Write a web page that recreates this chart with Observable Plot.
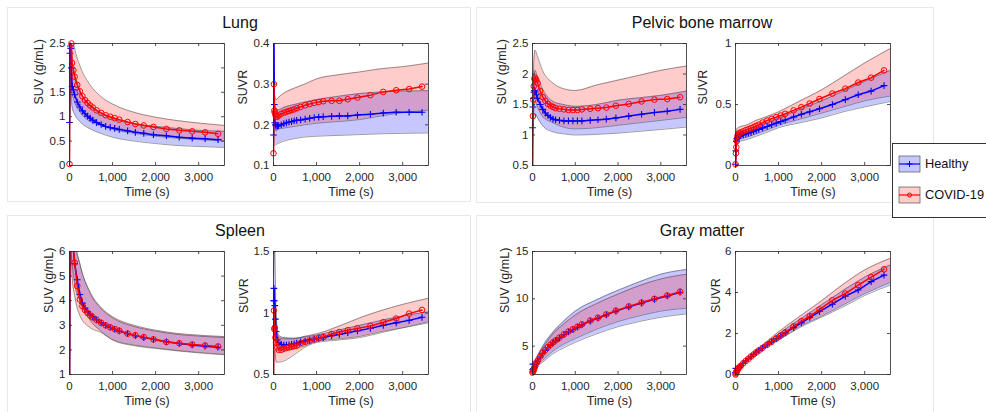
<!DOCTYPE html>
<html>
<head>
<meta charset="utf-8">
<script src="https://cdn.jsdelivr.net/npm/d3@7"></script>
<script src="https://cdn.jsdelivr.net/npm/@observablehq/plot@0.6"></script>
<style>
  html, body { margin: 0; padding: 0; background: #fff; }
  #root { position: relative; width: 986px; height: 412px; overflow: hidden; background: #fff;
          font-family: "Liberation Sans", Arial, Helvetica, sans-serif; color: #262626; }
  .grp { position: absolute; border: 1px solid #e8e8e8; box-sizing: border-box; }
  .ttl { position: absolute; font-size: 16px; line-height: 16px; color: #111; transform: translateX(-50%); white-space: nowrap; }
  .pnl { position: absolute; }
  #legend { position: absolute; left: 892px; top: 143px; width: 100px; height: 73px; border: 1px solid #333; background: #fff; }
</style>
</head>
<body>
<div id="root">
  <div class="grp" style="left:7px;top:7px;width:464px;height:195px"></div>
  <div class="grp" style="left:476px;top:7px;width:458px;height:196px"></div>
  <div class="grp" style="left:7px;top:215px;width:464px;height:205px"></div>
  <div class="grp" style="left:476px;top:215px;width:458px;height:205px"></div>
  <div class="ttl" style="left:240px;top:15px">Lung</div>
  <div class="ttl" style="left:702px;top:15px">Pelvic bone marrow</div>
  <div class="ttl" style="left:240px;top:223px">Spleen</div>
  <div class="ttl" style="left:702px;top:223px">Gray matter</div>
  <div id="legend"></div>
</div>
<script>
// ---------- data ----------
const timeS = [0, 10, 20, 30, 45, 60, 90, 120, 180, 240, 300, 360, 420, 480, 540, 630, 735, 840, 945, 1050, 1155, 1350, 1530, 1725, 1950, 2250, 2550, 2850, 3150, 3450];
const bandTimeS = [0, 30, 60, 120, 240, 480, 720, 1000, 1500, 2000, 2500, 3000, 3600];
const xTicks = [0, 1000, 2000, 3000];
const groups = ["Healthy", "COVID-19"];

// Lung SUV
const lungSuvHealthy = [0.88, 2.3, 2.45, 2.4, 2.0, 1.62, 1.55, 1.45, 1.3, 1.2, 1.12, 1.06, 1.01, 0.97, 0.93, 0.88, 0.84, 0.80, 0.78, 0.76, 0.74, 0.71, 0.68, 0.66, 0.63, 0.61, 0.58, 0.56, 0.55, 0.53];
const lungSuvCovid = [0.03, 4.0, 3.5, 3.0, 2.5, 2.1, 1.95, 1.82, 1.65, 1.52, 1.42, 1.34, 1.28, 1.23, 1.19, 1.13, 1.08, 1.03, 1.0, 0.97, 0.94, 0.89, 0.85, 0.82, 0.79, 0.75, 0.72, 0.70, 0.68, 0.65];
const lungSuvHealthyUp = [1.0, 2.6, 2.2, 1.9, 1.55, 1.22, 1.07, 0.96, 0.86, 0.80, 0.76, 0.72, 0.70];
const lungSuvHealthyLo = [0.7, 1.6, 1.2, 1.05, 0.9, 0.75, 0.66, 0.58, 0.50, 0.45, 0.41, 0.39, 0.37];
const lungSuvCovidUp = [0.1, 3.5, 2.7, 2.4, 2.05, 1.65, 1.42, 1.26, 1.09, 0.99, 0.92, 0.87, 0.82];
const lungSuvCovidLo = [0.0, 2.0, 1.5, 1.3, 1.1, 0.9, 0.82, 0.74, 0.66, 0.60, 0.56, 0.53, 0.50];

// Lung SUVR
const lungSuvrHealthy = [0.175, 0.45, 0.25, 0.205, 0.2, 0.197, 0.197, 0.198, 0.2, 0.203, 0.205, 0.207, 0.208, 0.21, 0.211, 0.212, 0.214, 0.216, 0.218, 0.219, 0.22, 0.221, 0.222, 0.222, 0.224, 0.226, 0.229, 0.231, 0.231, 0.231];
const lungSuvrCovid = [0.13, 0.30, 0.235, 0.23, 0.225, 0.22, 0.22, 0.223, 0.227, 0.23, 0.232, 0.234, 0.236, 0.238, 0.241, 0.244, 0.248, 0.251, 0.254, 0.256, 0.258, 0.259, 0.259, 0.263, 0.267, 0.273, 0.281, 0.285, 0.288, 0.294];
const lungSuvrHealthyUp = [0.2, 0.25, 0.237, 0.237, 0.243, 0.25, 0.256, 0.262, 0.27, 0.277, 0.281, 0.283, 0.284];
const lungSuvrHealthyLo = [0.15, 0.15, 0.152, 0.155, 0.16, 0.166, 0.17, 0.172, 0.174, 0.176, 0.178, 0.179, 0.18];
const lungSuvrCovidUp = [0.3, 0.27, 0.262, 0.268, 0.278, 0.29, 0.30, 0.313, 0.323, 0.33, 0.338, 0.343, 0.352];
const lungSuvrCovidLo = [0.12, 0.19, 0.185, 0.19, 0.192, 0.196, 0.2, 0.204, 0.208, 0.213, 0.222, 0.23, 0.236];

// Pelvic bone marrow SUV
const pelvicSuvHealthy = [1.12, 1.46, 1.6, 1.7, 1.73, 1.72, 1.66, 1.6, 1.5, 1.42, 1.36, 1.32, 1.29, 1.26, 1.25, 1.24, 1.23, 1.23, 1.23, 1.23, 1.23, 1.24, 1.25, 1.26, 1.28, 1.31, 1.34, 1.37, 1.39, 1.42];
const pelvicSuvCovid = [0.3, 1.31, 1.58, 1.8, 1.92, 1.94, 1.9, 1.85, 1.72, 1.62, 1.56, 1.51, 1.48, 1.46, 1.44, 1.43, 1.42, 1.41, 1.41, 1.41, 1.42, 1.43, 1.44, 1.45, 1.48, 1.51, 1.55, 1.58, 1.59, 1.62];
const pelvicSuvHealthyUp = [1.2, 1.9, 2.06, 1.95, 1.75, 1.55, 1.5, 1.47, 1.5, 1.57, 1.61, 1.65, 1.72];
const pelvicSuvHealthyLo = [1.0, 1.3, 1.35, 1.28, 1.15, 1.05, 1.02, 1.0, 1.01, 1.03, 1.06, 1.09, 1.13];
const pelvicSuvCovidUp = [0.5, 2.2, 2.39, 2.28, 2.05, 1.85, 1.76, 1.73, 1.82, 1.9, 1.98, 2.06, 2.13];
const pelvicSuvCovidLo = [0.1, 1.4, 1.55, 1.45, 1.3, 1.2, 1.13, 1.1, 1.12, 1.16, 1.2, 1.24, 1.29];

// Pelvic bone marrow SUVR
const pelvicSuvrHealthy = [0.01, 0.12, 0.2, 0.22, 0.228, 0.232, 0.238, 0.244, 0.25, 0.258, 0.265, 0.27, 0.279, 0.288, 0.296, 0.308, 0.32, 0.334, 0.347, 0.36, 0.373, 0.397, 0.42, 0.44, 0.465, 0.5, 0.54, 0.58, 0.61, 0.655];
const pelvicSuvrCovid = [0.01, 0.1, 0.15, 0.2, 0.24, 0.255, 0.265, 0.272, 0.28, 0.29, 0.298, 0.306, 0.315, 0.325, 0.335, 0.352, 0.368, 0.383, 0.396, 0.41, 0.424, 0.452, 0.478, 0.508, 0.545, 0.59, 0.63, 0.68, 0.72, 0.78];
const pelvicSuvrHealthyUp = [0.02, 0.26, 0.27, 0.28, 0.29, 0.32, 0.35, 0.39, 0.46, 0.53, 0.61, 0.69, 0.78];
const pelvicSuvrHealthyLo = [0.0, 0.18, 0.19, 0.2, 0.21, 0.24, 0.27, 0.31, 0.35, 0.39, 0.44, 0.48, 0.525];
const pelvicSuvrCovidUp = [0.02, 0.3, 0.31, 0.32, 0.33, 0.37, 0.4, 0.44, 0.53, 0.62, 0.73, 0.84, 0.96];
const pelvicSuvrCovidLo = [0.0, 0.2, 0.21, 0.22, 0.23, 0.26, 0.29, 0.33, 0.38, 0.43, 0.48, 0.53, 0.57];

// Spleen SUV
const spleenSuvHealthy = [0.5, 7.0, 8.0, 8.0, 7.4, 6.8, 6.1, 5.5, 4.85, 4.25, 3.9, 3.7, 3.55, 3.45, 3.35, 3.22, 3.1, 3.0, 2.92, 2.84, 2.77, 2.66, 2.58, 2.5, 2.43, 2.33, 2.26, 2.2, 2.15, 2.11];
const spleenSuvCovid = [0.2, 8.0, 9.0, 8.5, 7.5, 6.8, 6.1, 5.55, 4.6, 4.05, 3.78, 3.62, 3.5, 3.4, 3.32, 3.22, 3.1, 3.0, 2.92, 2.85, 2.78, 2.66, 2.6, 2.52, 2.43, 2.32, 2.27, 2.22, 2.18, 2.14];
const spleenSuvHealthyUp = [1.0, 9.0, 8.0, 6.6, 5.5, 4.3, 3.7, 3.3, 2.95, 2.76, 2.63, 2.56, 2.5];
const spleenSuvHealthyLo = [0.3, 6.0, 5.5, 4.7, 4.0, 3.2, 2.78, 2.42, 2.2, 2.08, 1.98, 1.9, 1.82];
const spleenSuvCovidUp = [0.5, 10.0, 8.0, 6.6, 5.5, 4.35, 3.75, 3.35, 3.0, 2.8, 2.67, 2.6, 2.54];
const spleenSuvCovidLo = [0.0, 6.0, 5.0, 4.2, 3.4, 2.9, 2.72, 2.4, 2.17, 2.06, 1.96, 1.88, 1.8];

// Spleen SUVR
const spleenSuvrHealthy = [1.1, 1.2, 1.1, 1.06, 0.95, 0.85, 0.78, 0.76, 0.745, 0.74, 0.74, 0.742, 0.745, 0.75, 0.755, 0.765, 0.772, 0.78, 0.787, 0.795, 0.8, 0.815, 0.825, 0.84, 0.855, 0.875, 0.9, 0.92, 0.94, 0.965];
const spleenSuvrCovid = [0.45, 1.02, 0.87, 0.88, 0.8, 0.76, 0.72, 0.7, 0.7, 0.71, 0.715, 0.72, 0.725, 0.73, 0.735, 0.755, 0.765, 0.775, 0.785, 0.795, 0.805, 0.83, 0.845, 0.86, 0.875, 0.895, 0.925, 0.955, 0.995, 1.025];
const spleenSuvrHealthyUp = [1.3, 1.5, 1.0, 0.82, 0.8, 0.795, 0.805, 0.82, 0.86, 0.9, 0.94, 0.975, 1.01];
const spleenSuvrHealthyLo = [0.9, 0.9, 0.75, 0.71, 0.7, 0.71, 0.73, 0.77, 0.79, 0.81, 0.85, 0.88, 0.92];
const spleenSuvrCovidUp = [0.9, 1.2, 0.95, 0.8, 0.79, 0.79, 0.81, 0.83, 0.89, 0.96, 1.02, 1.07, 1.12];
const spleenSuvrCovidLo = [0.3, 0.7, 0.6, 0.6, 0.61, 0.66, 0.72, 0.76, 0.78, 0.8, 0.84, 0.88, 0.93];

// Gray matter SUV
const grayMatterSuvHealthy = [2.5, 3.1, 2.6, 2.6, 2.7, 2.85, 3.15, 3.4, 3.85, 4.25, 4.55, 4.85, 5.1, 5.35, 5.55, 5.85, 6.2, 6.5, 6.75, 7.0, 7.25, 7.65, 7.95, 8.3, 8.7, 9.15, 9.55, 9.95, 10.3, 10.7];
const grayMatterSuvCovid = [2.2, 2.3, 2.4, 2.5, 2.7, 2.9, 3.2, 3.45, 3.9, 4.3, 4.6, 4.9, 5.15, 5.4, 5.6, 5.9, 6.25, 6.55, 6.8, 7.05, 7.3, 7.7, 8.0, 8.35, 8.75, 9.2, 9.6, 10.0, 10.35, 10.75];
const grayMatterSuvHealthyUp = [2.7, 3.0, 3.4, 4.0, 5.0, 6.5, 7.6, 8.7, 9.9, 10.9, 11.8, 12.6, 13.1];
const grayMatterSuvHealthyLo = [2.0, 2.2, 2.4, 2.9, 3.3, 4.2, 4.8, 5.4, 6.3, 7.05, 7.6, 8.05, 8.4];
const grayMatterSuvCovidUp = [2.5, 2.9, 3.3, 3.9, 4.8, 6.3, 7.3, 8.3, 9.5, 10.5, 11.4, 12.1, 12.6];
const grayMatterSuvCovidLo = [2.0, 2.2, 2.5, 3.0, 3.5, 4.5, 5.2, 5.8, 6.8, 7.6, 8.2, 8.7, 9.0];

// Gray matter SUVR
const grayMatterSuvrHealthy = [0.1, 0.3, 0.15, 0.17, 0.23, 0.28, 0.35, 0.42, 0.55, 0.66, 0.77, 0.87, 0.97, 1.07, 1.16, 1.29, 1.44, 1.59, 1.74, 1.88, 2.03, 2.29, 2.52, 2.78, 3.07, 3.43, 3.82, 4.12, 4.53, 4.85];
const grayMatterSuvrCovid = [0.0, 0.05, 0.1, 0.15, 0.22, 0.28, 0.35, 0.42, 0.55, 0.66, 0.77, 0.88, 0.98, 1.08, 1.17, 1.3, 1.45, 1.6, 1.75, 1.9, 2.05, 2.35, 2.6, 2.85, 3.17, 3.62, 3.95, 4.36, 4.75, 5.13];
const grayMatterSuvrHealthyUp = [0.2, 0.3, 0.35, 0.5, 0.72, 1.15, 1.55, 1.98, 2.7, 3.4, 4.1, 4.75, 5.35];
const grayMatterSuvrHealthyLo = [0.0, 0.1, 0.2, 0.35, 0.6, 1.0, 1.35, 1.68, 2.3, 2.8, 3.3, 3.85, 4.36];
const grayMatterSuvrCovidUp = [0.1, 0.25, 0.35, 0.5, 0.72, 1.18, 1.6, 2.08, 2.85, 3.6, 4.4, 5.1, 5.67];
const grayMatterSuvrCovidLo = [0.0, 0.05, 0.15, 0.3, 0.58, 1.02, 1.38, 1.7, 2.35, 2.85, 3.4, 3.95, 4.5];

// ---------- layout / style ----------
const FONT = '"Liberation Sans", Arial, Helvetica, sans-serif';
const INK = "#262626";
const BLUE = "#0000ff", RED = "#ff0000";

const panels = [
  {box: [69, 224, 43, 165], yDomain: [0, 2.5], yTicks: [0, 0.5, 1, 1.5, 2, 2.5], yLabel: "SUV (g/mL)", yLabelDx: -31,
   h: lungSuvHealthy, c: lungSuvCovid, hu: lungSuvHealthyUp, hl: lungSuvHealthyLo, cu: lungSuvCovidUp, cl: lungSuvCovidLo},
  {box: [273, 428, 43, 165], yDomain: [0.1, 0.4], yTicks: [0.1, 0.2, 0.3, 0.4], yLabel: "SUVR", yLabelDx: -31,
   h: lungSuvrHealthy, c: lungSuvrCovid, hu: lungSuvrHealthyUp, hl: lungSuvrHealthyLo, cu: lungSuvrCovidUp, cl: lungSuvrCovidLo},
  {box: [532, 686, 43, 165], yDomain: [0.5, 2.5], yTicks: [0.5, 1, 1.5, 2, 2.5], yLabel: "SUV (g/mL)", yLabelDx: -31,
   h: pelvicSuvHealthy, c: pelvicSuvCovid, hu: pelvicSuvHealthyUp, hl: pelvicSuvHealthyLo, cu: pelvicSuvCovidUp, cl: pelvicSuvCovidLo},
  {box: [735, 890, 43, 165], yDomain: [0, 1], yTicks: [0, 0.5, 1], yLabel: "SUVR", yLabelDx: -33,
   h: pelvicSuvrHealthy, c: pelvicSuvrCovid, hu: pelvicSuvrHealthyUp, hl: pelvicSuvrHealthyLo, cu: pelvicSuvrCovidUp, cl: pelvicSuvrCovidLo},
  {box: [69, 224, 251, 374], yDomain: [1, 6], yTicks: [1, 2, 3, 4, 5, 6], yLabel: "SUV (g/mL)", yLabelDx: -21,
   h: spleenSuvHealthy, c: spleenSuvCovid, hu: spleenSuvHealthyUp, hl: spleenSuvHealthyLo, cu: spleenSuvCovidUp, cl: spleenSuvCovidLo},
  {box: [273, 428, 251, 374], yDomain: [0.5, 1.5], yTicks: [0.5, 1, 1.5], yLabel: "SUVR", yLabelDx: -30,
   h: spleenSuvrHealthy, c: spleenSuvrCovid, hu: spleenSuvrHealthyUp, hl: spleenSuvrHealthyLo, cu: spleenSuvrCovidUp, cl: spleenSuvrCovidLo},
  {box: [532, 686, 251, 374], yDomain: [2, 15], yTicks: [5, 10, 15], yLabel: "SUV (g/mL)", yLabelDx: -28,
   h: grayMatterSuvHealthy, c: grayMatterSuvCovid, hu: grayMatterSuvHealthyUp, hl: grayMatterSuvHealthyLo, cu: grayMatterSuvCovidUp, cl: grayMatterSuvCovidLo},
  {box: [735, 890, 251, 374], yDomain: [0, 6], yTicks: [0, 2, 4, 6], yLabel: "SUVR", yLabelDx: -20,
   h: grayMatterSuvrHealthy, c: grayMatterSuvrCovid, hu: grayMatterSuvrHealthyUp, hl: grayMatterSuvrHealthyLo, cu: grayMatterSuvrCovidUp, cl: grayMatterSuvrCovidLo},
];

const root = document.getElementById("root");
const ML = 50, MR = 6, MT = 6, MB = 40;
const plainNum = d => String(d);

for (const p of panels) {
  const [x0, x1, y0, y1] = p.box;
  const fw = x1 - x0, fh = y1 - y0;
  const [lo, hi] = p.yDomain;
  const mean = timeS.map((t, i) => ({t, h: p.h[i], c: p.c[i]}));
  const band = bandTimeS.map((t, i) => ({t, hu: p.hu[i], hl: p.hl[i], cu: p.cu[i], cl: p.cl[i]}));
  const edge = (y) => Plot.lineY(band, {x: "t", y, stroke: "#444", strokeWidth: 0.7, strokeOpacity: 0.75, curve: "monotone-x", clip: true});
  const svg = Plot.plot({
    width: fw + ML + MR, height: fh + MT + MB,
    marginLeft: ML, marginRight: MR, marginTop: MT, marginBottom: MB,
    style: {fontFamily: FONT, fontSize: "11.5px", color: INK, background: "transparent", overflow: "visible"},
    x: {domain: [0, 3600]},
    y: {domain: p.yDomain},
    marks: [
      Plot.areaY(band, {x: "t", y1: "hl", y2: "hu", fill: BLUE, fillOpacity: 0.22, curve: "monotone-x", clip: true}),
      Plot.areaY(band, {x: "t", y1: "cl", y2: "cu", fill: RED, fillOpacity: 0.2, curve: "monotone-x", clip: true}),
      edge("hu"), edge("hl"), edge("cu"), edge("cl"),
      Plot.lineY(mean, {x: "t", y: "h", stroke: BLUE, strokeWidth: 1.5, clip: true}),
      Plot.dot(mean, {x: "t", y: "h", symbol: "plus", stroke: BLUE, strokeWidth: 1.1, r: 2.3, filter: d => d.h >= lo && d.h <= hi}),
      Plot.lineY(mean, {x: "t", y: "c", stroke: RED, strokeWidth: 1.5, clip: true}),
      Plot.dot(mean, {x: "t", y: "c", symbol: "circle", stroke: RED, fill: "none", strokeWidth: 1, r: 2.8, filter: d => d.c >= lo && d.c <= hi}),
      Plot.frame({stroke: INK, strokeWidth: 0.8}),
      Plot.tickX(xTicks, {x: d => d, insetTop: fh - 3, stroke: INK, strokeWidth: 0.8}),
      Plot.tickX(xTicks, {x: d => d, insetBottom: fh - 3, stroke: INK, strokeWidth: 0.8}),
      Plot.tickY(p.yTicks, {y: d => d, insetRight: fw - 3, stroke: INK, strokeWidth: 0.8}),
      Plot.tickY(p.yTicks, {y: d => d, insetLeft: fw - 3, stroke: INK, strokeWidth: 0.8}),
      Plot.axisX({ticks: xTicks, tickSize: 0, tickPadding: 7, tickFormat: d3.format(","), label: null, fontSize: 11.5, fill: INK}),
      Plot.axisY({ticks: p.yTicks, tickSize: 0, tickPadding: 4, tickFormat: plainNum, label: null, fontSize: 11.5, fill: INK}),
      Plot.text(["Time (s)"], {text: d => d, frameAnchor: "bottom", dy: 22, lineAnchor: "top", fontSize: 12.5, fill: INK}),
      Plot.text([p.yLabel], {text: d => d, frameAnchor: "left", dx: p.yLabelDx, rotate: -90, lineAnchor: "middle", fontSize: 12.5, fill: INK}),
    ]
  });
  const div = document.createElement("div");
  div.className = "pnl";
  div.style.left = (x0 - ML) + "px";
  div.style.top = (y0 - MT) + "px";
  div.appendChild(svg);
  root.appendChild(div);
}

// ---------- legend ----------
const leg = d3.select("#legend").append("svg").attr("width", 100).attr("height", 73)
  .style("font-family", FONT).style("overflow", "visible");
const legRows = [
  {name: groups[0], color: BLUE, fill: "rgba(0,0,255,0.22)", y: 20, sym: "plus"},
  {name: groups[1], color: RED, fill: "rgba(255,0,0,0.2)", y: 51, sym: "circle"},
];
for (const r of legRows) {
  const g = leg.append("g");
  g.append("rect").attr("x", 6).attr("y", r.y - 8).attr("width", 21).attr("height", 16)
    .attr("fill", r.fill).attr("stroke", "#555").attr("stroke-width", 0.7);
  g.append("line").attr("x1", 6).attr("x2", 27).attr("y1", r.y).attr("y2", r.y).attr("stroke", r.color).attr("stroke-width", 1.2);
  if (r.sym === "plus") {
    g.append("path").attr("d", `M16.5,${r.y - 3}V${r.y + 3}M13.5,${r.y}H19.5`).attr("stroke", r.color).attr("stroke-width", 1);
  } else {
    g.append("circle").attr("cx", 16.5).attr("cy", r.y).attr("r", 2).attr("fill", "none").attr("stroke", r.color).attr("stroke-width", 1);
  }
  g.append("text").attr("x", 32).attr("y", r.y).attr("dy", "0.35em").attr("font-size", 12.8).attr("fill", "#111").text(r.name);
}
</script>
</body>
</html>
